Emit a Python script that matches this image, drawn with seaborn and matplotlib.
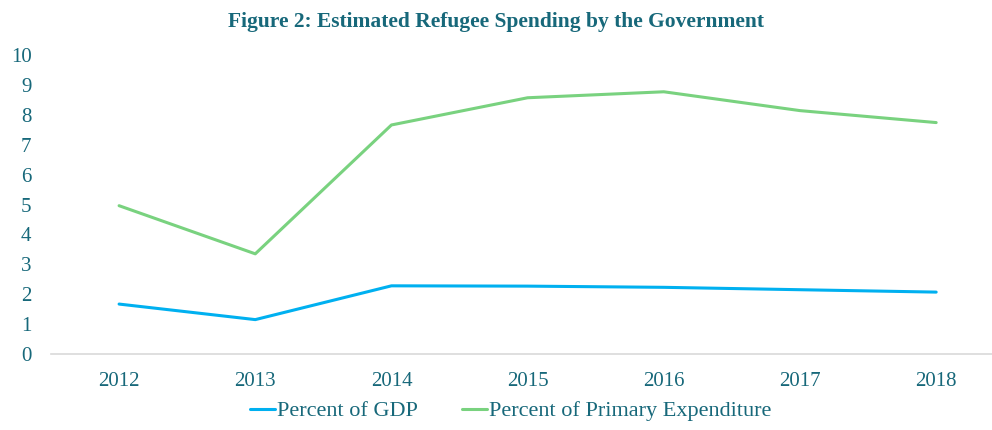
import matplotlib
matplotlib.use('Agg')
import matplotlib.pyplot as plt
import seaborn as sns
import pandas as pd

years = ['2012', '2013', '2014', '2015', '2016', '2017', '2018']
pct_gdp = [1.67, 1.15, 2.28, 2.27, 2.23, 2.15, 2.07]
pct_primary = [4.96, 3.35, 7.66, 8.57, 8.77, 8.14, 7.74]
series_names = ['Percent of GDP', 'Percent of Primary Expenditure']

df = pd.DataFrame({
    'year': years * 2,
    'value': pct_gdp + pct_primary,
    'series': [series_names[0]] * len(years) + [series_names[1]] * len(years),
})

teal = '#17687A'
colors = {series_names[0]: '#00B0F0', series_names[1]: '#79D27F'}

sns.set_style('white')
plt.rcParams['font.family'] = ['Liberation Serif', 'DejaVu Serif']

fig = plt.figure(figsize=(9.92, 4.30), dpi=100)
ax = fig.add_axes([51 / 992, 1 - 354 / 430, 941 / 992, 299 / 430])

sns.lineplot(data=df, x='year', y='value', hue='series', palette=colors,
             linewidth=2.2, ax=ax, sort=False)

ax.set_ylim(0, 10)
ax.set_xlim(-0.5, 6.41)
ax.set_yticks(range(0, 11))
ax.set_xlabel('')
ax.set_ylabel('')
for s in ['top', 'right', 'left']:
    ax.spines[s].set_visible(False)
ax.spines['bottom'].set_color('#D9D9D9')
ax.spines['bottom'].set_linewidth(1.2)
ax.tick_params(axis='both', length=0, labelsize=15, labelcolor=teal)
ax.tick_params(axis='y', pad=14)
ax.tick_params(axis='x', pad=13)

fig.text(0.5, 1 - 22 / 430, 'Figure 2: Estimated Refugee Spending by the Government',
         ha='center', va='center', fontsize=15.5, fontweight='bold', color=teal)

leg = ax.legend(loc='center', bbox_to_anchor=(511 / 992, 1 - 411 / 430),
                bbox_transform=fig.transFigure, ncol=2, frameon=False,
                fontsize=16, handlelength=1.1, handletextpad=0.1,
                columnspacing=2.0)
for t in leg.get_texts():
    t.set_color(teal)

fig.savefig('out.png', dpi=100)
